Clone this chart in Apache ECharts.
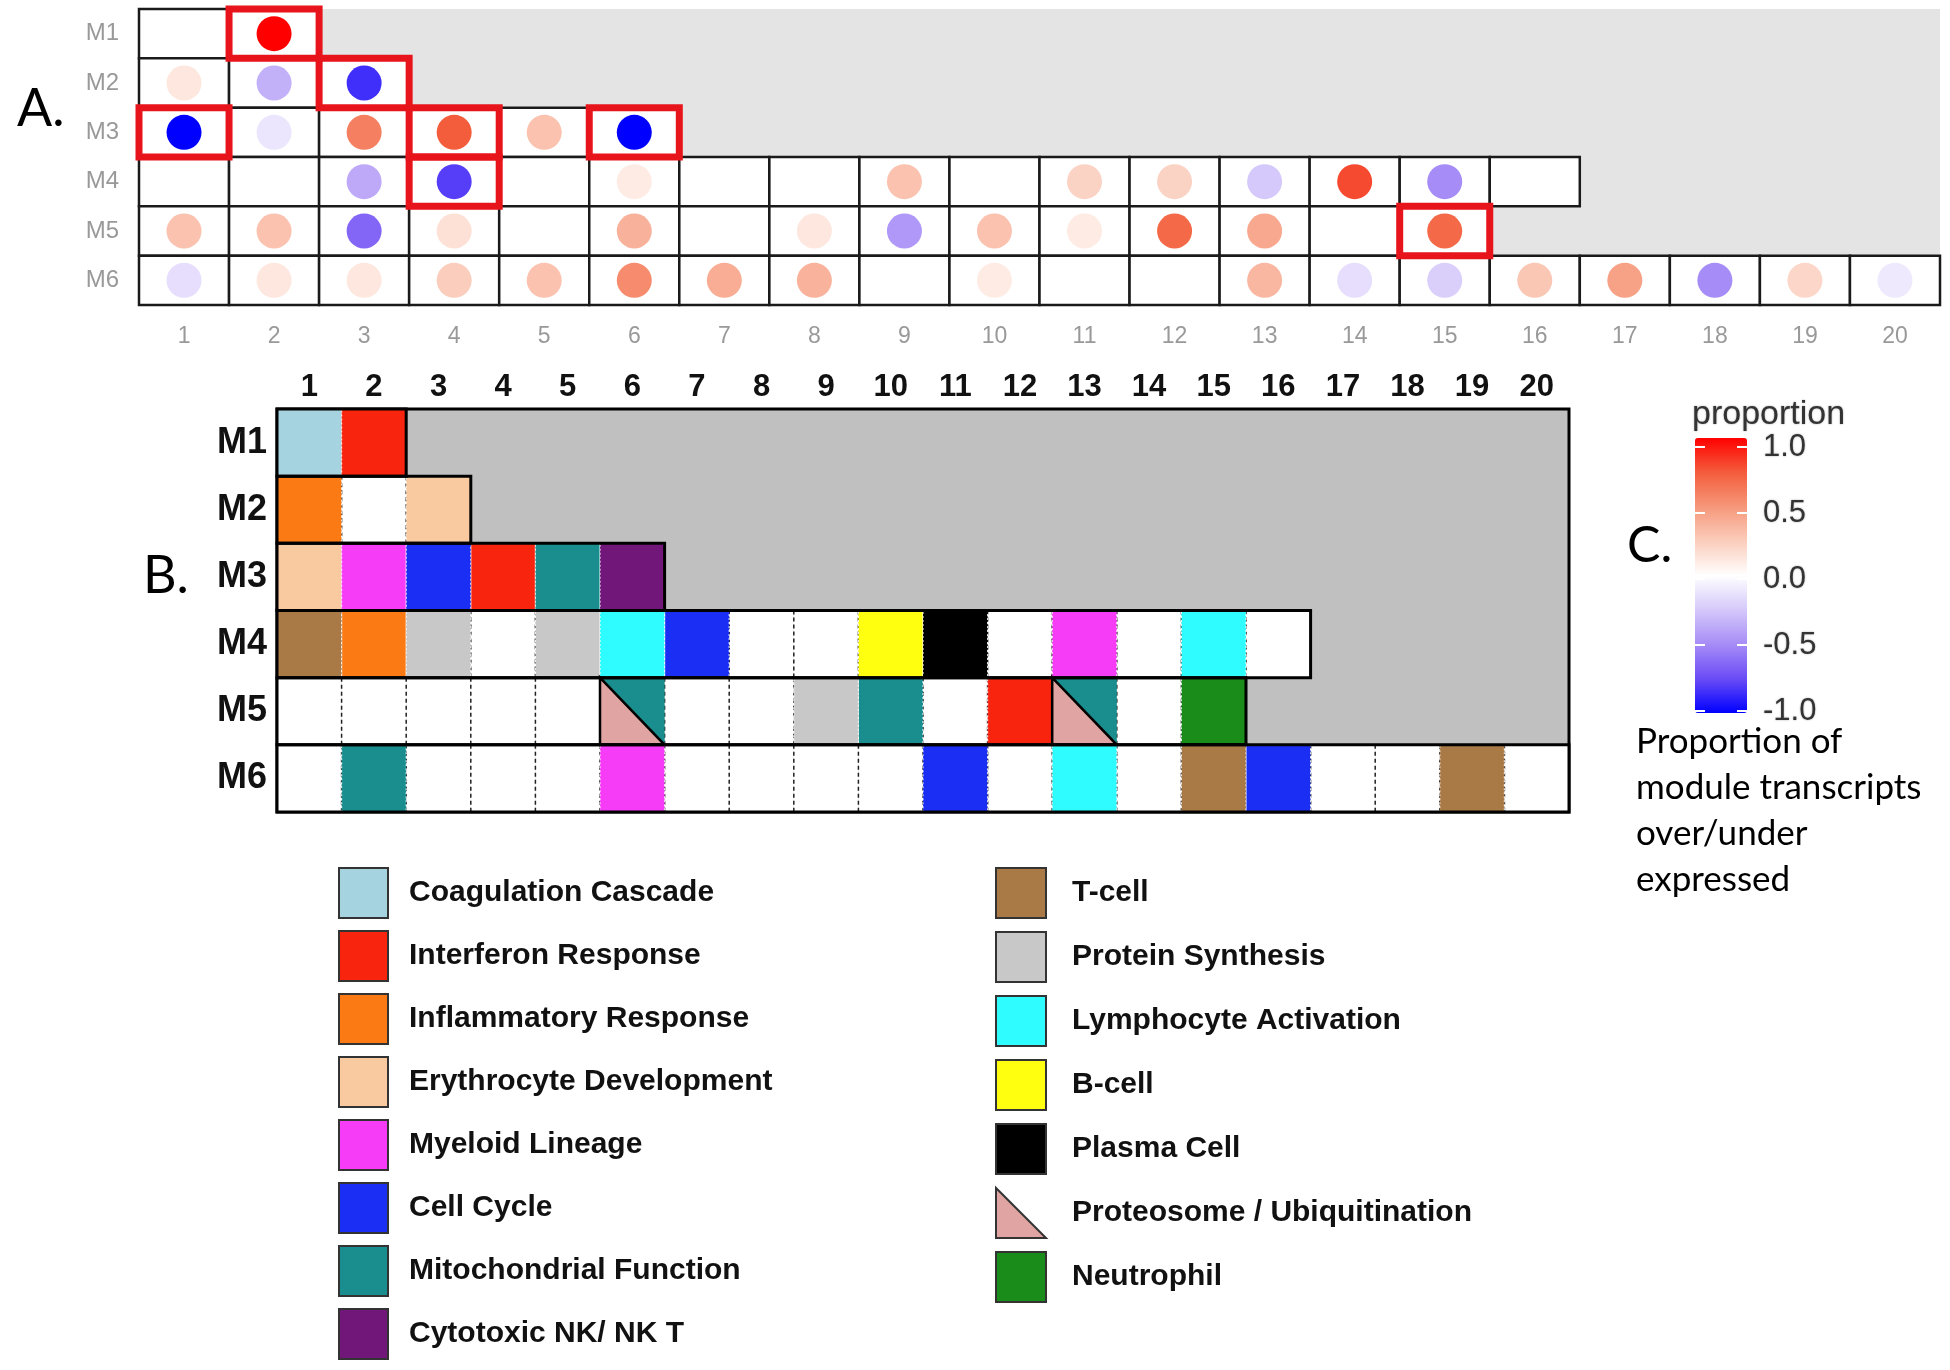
<!DOCTYPE html>
<html><head><meta charset="utf-8">
<script src="https://cdn.jsdelivr.net/npm/echarts@6/dist/echarts.min.js"></script>
<style>html,body{margin:0;padding:0;background:#fff}#chart{width:1950px;height:1370px}</style>
</head><body><div id="chart"></div>
<script>
// ---------------- data ----------------
const moduleNames = ['M1', 'M2', 'M3', 'M4', 'M5', 'M6'];
const positionLabels = ['1','2','3','4','5','6','7','8','9','10','11','12','13','14','15','16','17','18','19','20'];
const moduleLengths = [2, 3, 6, 16, 15, 20];

// Panel A: proportion of module transcripts over/under expressed (null = no dot)
const proportionM1 = [null, 1.0];
const proportionM2 = [0.12, -0.35, -0.85];
const proportionM3 = [-1.0, -0.12, 0.6, 0.75, 0.3, -1.0];
const proportionM4 = [null, null, -0.38, -0.8, null, 0.1, null, null, 0.3, null, 0.22, 0.22, -0.25, 0.8, -0.5, null];
const proportionM5 = [0.3, 0.3, -0.65, 0.15, null, 0.38, null, 0.12, -0.45, 0.3, 0.1, 0.7, 0.42, null, 0.7];
const proportionM6 = [-0.15, 0.12, 0.12, 0.25, 0.3, 0.55, 0.4, 0.37, null, 0.1, null, null, 0.35, -0.15, -0.22, 0.28, 0.45, -0.5, 0.2, -0.1];

// Panel A highlighted modules [module, position]
const highlightedCells = [['M1','2'], ['M2','3'], ['M3','1'], ['M3','4'], ['M3','6'], ['M4','4'], ['M5','15']];

// Panel B: functional annotation categories
const categories = [
  'Coagulation Cascade', 'Interferon Response', 'Inflammatory Response', 'Erythrocyte Development',
  'Myeloid Lineage', 'Cell Cycle', 'Mitochondrial Function', 'Cytotoxic NK/ NK T',
  'T-cell', 'Protein Synthesis', 'Lymphocyte Activation', 'B-cell', 'Plasma Cell',
  'Proteosome / Ubiquitination', 'Neutrophil'
];
const categoryColors = [
  '#a6d3e0', '#f8240e', '#fb7a14', '#f9c9a0',
  '#f73cf7', '#1a2ef4', '#1a8e8e', '#72177a',
  '#a97a45', '#c8c8c8', '#2ffcff', '#ffff10', '#000000',
  '#e0a4a2', '#1a8c1a'
];
const legendLeftColumn = categories.slice(0, 8);
const legendRightColumn = categories.slice(8);

const annotationM1 = ['Coagulation Cascade', 'Interferon Response'];
const annotationM2 = ['Inflammatory Response', null, 'Erythrocyte Development'];
const annotationM3 = ['Erythrocyte Development', 'Myeloid Lineage', 'Cell Cycle', 'Interferon Response', 'Mitochondrial Function', 'Cytotoxic NK/ NK T'];
const annotationM4 = ['T-cell', 'Inflammatory Response', 'Protein Synthesis', null, 'Protein Synthesis', 'Lymphocyte Activation', 'Cell Cycle', null, null, 'B-cell', 'Plasma Cell', null, 'Myeloid Lineage', null, 'Lymphocyte Activation', null];
const annotationM5 = [null, null, null, null, null, ['Proteosome / Ubiquitination', 'Mitochondrial Function'], null, null, 'Protein Synthesis', 'Mitochondrial Function', null, 'Interferon Response', ['Proteosome / Ubiquitination', 'Mitochondrial Function'], null, 'Neutrophil'];
const annotationM6 = [null, 'Mitochondrial Function', null, null, null, 'Myeloid Lineage', null, null, null, null, 'Cell Cycle', null, 'Lymphocyte Activation', null, 'T-cell', 'Cell Cycle', null, null, 'T-cell', null];

// Panel C colour scale
const scaleMin = -1, scaleMax = 1, scaleStep = 0.5;
const scaleTicks = [-1, -0.5, 0, 0.5, 1];
const scaleColors = ['#0000ff', '#6b4cf6', '#a68cf7', '#d5c8fa', '#ffffff', '#fbcdbc', '#f6977a', '#f45d3c', '#ff0000'];
const descriptionLines = ['Proportion of', 'module transcripts', 'over/under', 'expressed'];

// ---------------- build ----------------
const proportions = [proportionM1, proportionM2, proportionM3, proportionM4, proportionM5, proportionM6];
const annotations = [annotationM1, annotationM2, annotationM3, annotationM4, annotationM5, annotationM6];

const cellsAll = [];
const rowOutlines = [];
const separators = [];
moduleLengths.forEach((len, r) => {
  rowOutlines.push([0, r, len]);
  for (let c = 0; c < len; c++) {
    cellsAll.push([c, r]);
    if (c > 0) separators.push([c, r]);
  }
});
const dots = [];
proportions.forEach((arr, r) => arr.forEach((v, c) => { if (v !== null) dots.push([c, r, v]); }));
const highlights = highlightedCells.map(([m, p]) => [positionLabels.indexOf(p), moduleNames.indexOf(m)]);

const catData = categories.map(() => []);
annotations.forEach((arr, r) => arr.forEach((a, c) => {
  if (a === null) return;
  if (Array.isArray(a)) {
    catData[categories.indexOf(a[0])].push([c, r, 1]); // lower-left triangle
    catData[categories.indexOf(a[1])].push([c, r, 2]); // upper-right triangle
  } else {
    catData[categories.indexOf(a)].push([c, r, 0]);
  }
}));

function box(api, col, row) {
  const p = api.coord([col, row]);
  const s = api.size([1, 1]);
  return { x: p[0] - s[0] / 2, y: p[1] - s[1] / 2, w: s[0], h: s[1] };
}

const FONT = '"Liberation Sans", Arial, sans-serif';
const series = [];

// Panel A
series.push({
  type: 'custom', xAxisIndex: 0, yAxisIndex: 0, z: 1, silent: true, data: cellsAll,
  renderItem: (p, api) => {
    const b = box(api, api.value(0), api.value(1));
    return { type: 'rect', shape: { x: b.x, y: b.y, width: b.w, height: b.h },
      style: { fill: '#ffffff', stroke: '#1a1a1a', lineWidth: 2.5 } };
  }
});
series.push({
  type: 'scatter', xAxisIndex: 0, yAxisIndex: 0, z: 3, silent: true, data: dots,
  symbol: 'circle', symbolSize: 35, itemStyle: { opacity: 1 }
});
series.push({
  type: 'custom', xAxisIndex: 0, yAxisIndex: 0, z: 4, silent: true, data: highlights,
  renderItem: (p, api) => {
    const b = box(api, api.value(0), api.value(1));
    return { type: 'rect', shape: { x: b.x, y: b.y, width: b.w, height: b.h },
      style: { fill: null, stroke: '#e8141b', lineWidth: 7 } };
  }
});

// Panel B base cells
series.push({
  type: 'custom', xAxisIndex: 1, yAxisIndex: 1, z: 1, silent: true, data: cellsAll,
  renderItem: (p, api) => {
    const b = box(api, api.value(0), api.value(1));
    return { type: 'rect', shape: { x: b.x, y: b.y, width: b.w, height: b.h }, style: { fill: '#ffffff' } };
  }
});
series.push({
  type: 'custom', xAxisIndex: 1, yAxisIndex: 1, z: 2, silent: true, data: separators,
  renderItem: (p, api) => {
    const b = box(api, api.value(0), api.value(1));
    return { type: 'line', shape: { x1: b.x, y1: b.y, x2: b.x, y2: b.y + b.h },
      style: { stroke: '#222', lineWidth: 1.5, lineDash: [4, 3] } };
  }
});
categories.forEach((name, i) => {
  series.push({
    type: 'custom', name: name, xAxisIndex: 1, yAxisIndex: 1, z: name === 'Proteosome / Ubiquitination' ? 4 : 3,
    silent: true, data: catData[i], itemStyle: { color: categoryColors[i] },
    renderItem: (p, api) => {
      const b = box(api, api.value(0), api.value(1));
      const part = api.value(2);
      const col = api.visual('color');
      if (part === 1) {
        return { type: 'polygon', shape: { points: [[b.x, b.y], [b.x, b.y + b.h], [b.x + b.w, b.y + b.h]] },
          style: { fill: col, stroke: '#000', lineWidth: 2.5 } };
      }
      if (part === 2) {
        return { type: 'polygon', shape: { points: [[b.x, b.y], [b.x + b.w, b.y], [b.x + b.w, b.y + b.h]] },
          style: { fill: col } };
      }
      return { type: 'rect', shape: { x: b.x, y: b.y, width: b.w, height: b.h },
        style: { fill: col, stroke: 'rgba(255,255,255,0.85)', lineWidth: 1.2, lineDash: [2, 2] } };
    }
  });
});
series.push({
  type: 'custom', xAxisIndex: 1, yAxisIndex: 1, z: 5, silent: true, data: rowOutlines,
  renderItem: (p, api) => {
    const b = box(api, api.value(0), api.value(1));
    return { type: 'rect', shape: { x: b.x, y: b.y, width: b.w * api.value(2), height: b.h },
      style: { fill: null, stroke: '#000', lineWidth: 3 } };
  }
});

// Panel C: white colour-bar ticks on both edges
series.push({
  type: 'custom', xAxisIndex: 2, yAxisIndex: 2, z: 20, silent: true, data: scaleTicks.map(v => [0, v]),
  renderItem: (p, api) => {
    const l = api.coord([0, api.value(1)]);
    const r = api.coord([1, api.value(1)]);
    return { type: 'group', children: [
      { type: 'line', shape: { x1: l[0], y1: l[1], x2: l[0] + 10, y2: l[1] }, style: { stroke: '#ffffff', lineWidth: 2 } },
      { type: 'line', shape: { x1: r[0] - 10, y1: r[1], x2: r[0], y2: r[1] }, style: { stroke: '#ffffff', lineWidth: 2 } }
    ] };
  }
});

const triIcon = 'path://M0,0 L0,10 L10,10 Z';
function legendItems(list) {
  return list.map(n => ({ name: n, icon: n === 'Proteosome / Ubiquitination' ? triIcon : 'rect',
    itemStyle: { borderColor: '#333', borderWidth: 2 } }));
}
const legendText = (pad) => ({ fontFamily: FONT, fontWeight: 'bold', fontSize: 30, color: '#111', padding: [0, 0, 0, pad] });

const option = {
  backgroundColor: '#ffffff',
  animation: false,
  title: [
    { text: 'A.', left: 17, top: 83, padding: 0, textStyle: { fontFamily: 'Lato', fontWeight: 'normal', fontSize: 52, lineHeight: 52, color: '#000' } },
    { text: 'B.', left: 143, top: 550, padding: 0, textStyle: { fontFamily: 'Lato', fontWeight: 'normal', fontSize: 52, lineHeight: 52, color: '#000' } },
    { text: 'C.', left: 1627, top: 521, padding: 0, textStyle: { fontFamily: 'Lato', fontWeight: 'normal', fontSize: 50, lineHeight: 50, color: '#000' } },
    { text: 'proportion', left: 1692, top: 398, padding: 0, textStyle: { fontFamily: FONT, fontWeight: 'normal', fontSize: 34, lineHeight: 34, color: '#333', textShadowColor: 'rgba(0,0,0,0.35)', textShadowBlur: 2 } },
    { text: descriptionLines.join('\n'), left: 1636, top: 719, padding: 0, textStyle: { fontFamily: 'Lato', fontWeight: 'normal', fontSize: 35, lineHeight: 46, color: '#000' } }
  ],
  grid: [
    { left: 139, top: 9, width: 1801, height: 296, show: true, backgroundColor: '#e4e4e4', borderWidth: 0 },
    { left: 277, top: 409, width: 1292, height: 403, show: true, backgroundColor: '#c0c0c0', borderColor: '#000', borderWidth: 3 },
    { left: 1695, top: 447, width: 52, height: 264, show: false }
  ],
  xAxis: [
    { type: 'category', gridIndex: 0, data: positionLabels, position: 'bottom',
      axisLine: { show: false }, axisTick: { show: false }, splitLine: { show: false },
      axisLabel: { color: '#999', fontFamily: FONT, fontSize: 23, margin: 20 } },
    { type: 'category', gridIndex: 1, data: positionLabels, position: 'top',
      axisLine: { show: false }, axisTick: { show: false }, splitLine: { show: false },
      axisLabel: { color: '#111', fontFamily: FONT, fontWeight: 'bold', fontSize: 31, margin: 6 } },
    { type: 'value', gridIndex: 2, min: 0, max: 1, show: false }
  ],
  yAxis: [
    { type: 'category', gridIndex: 0, data: moduleNames, inverse: true,
      axisLine: { show: false }, axisTick: { show: false }, splitLine: { show: false },
      axisLabel: { color: '#999', fontFamily: FONT, fontSize: 24, margin: 20 } },
    { type: 'category', gridIndex: 1, data: moduleNames, inverse: true,
      axisLine: { show: false }, axisTick: { show: false }, splitLine: { show: false },
      axisLabel: { color: '#111', fontFamily: FONT, fontWeight: 'bold', fontSize: 36, margin: 10 } },
    { type: 'value', gridIndex: 2, min: scaleMin, max: scaleMax, interval: scaleStep, position: 'right',
      axisLine: { show: false }, splitLine: { show: false }, axisTick: { show: false },
      axisLabel: { color: '#333', fontFamily: FONT, fontSize: 31, margin: 16, formatter: v => v.toFixed(1),
        textShadowColor: 'rgba(0,0,0,0.35)', textShadowBlur: 2 } }
  ],
  visualMap: {
    type: 'continuous', min: scaleMin, max: scaleMax, seriesIndex: 1, dimension: 2,
    orient: 'vertical', left: 1695, top: 438, itemWidth: 52, itemHeight: 275,
    padding: 0, calculable: false, hoverLink: false, text: null, showLabel: false,
    inRange: { color: scaleColors }
  },
  legend: [
    { orient: 'vertical', left: 338, top: 867, height: 520, itemWidth: 49, itemHeight: 50, itemGap: 11, padding: 0,
      selectedMode: false, data: legendItems(legendLeftColumn), textStyle: legendText(16) },
    { orient: 'vertical', left: 995, top: 867, height: 520, itemWidth: 50, itemHeight: 50, itemGap: 12, padding: 0,
      selectedMode: false, data: legendItems(legendRightColumn), textStyle: legendText(21) }
  ],
  series: series
};

const chart = echarts.init(document.getElementById('chart'), null, { renderer: 'canvas' });
chart.setOption(option);
</script>
</body></html>
